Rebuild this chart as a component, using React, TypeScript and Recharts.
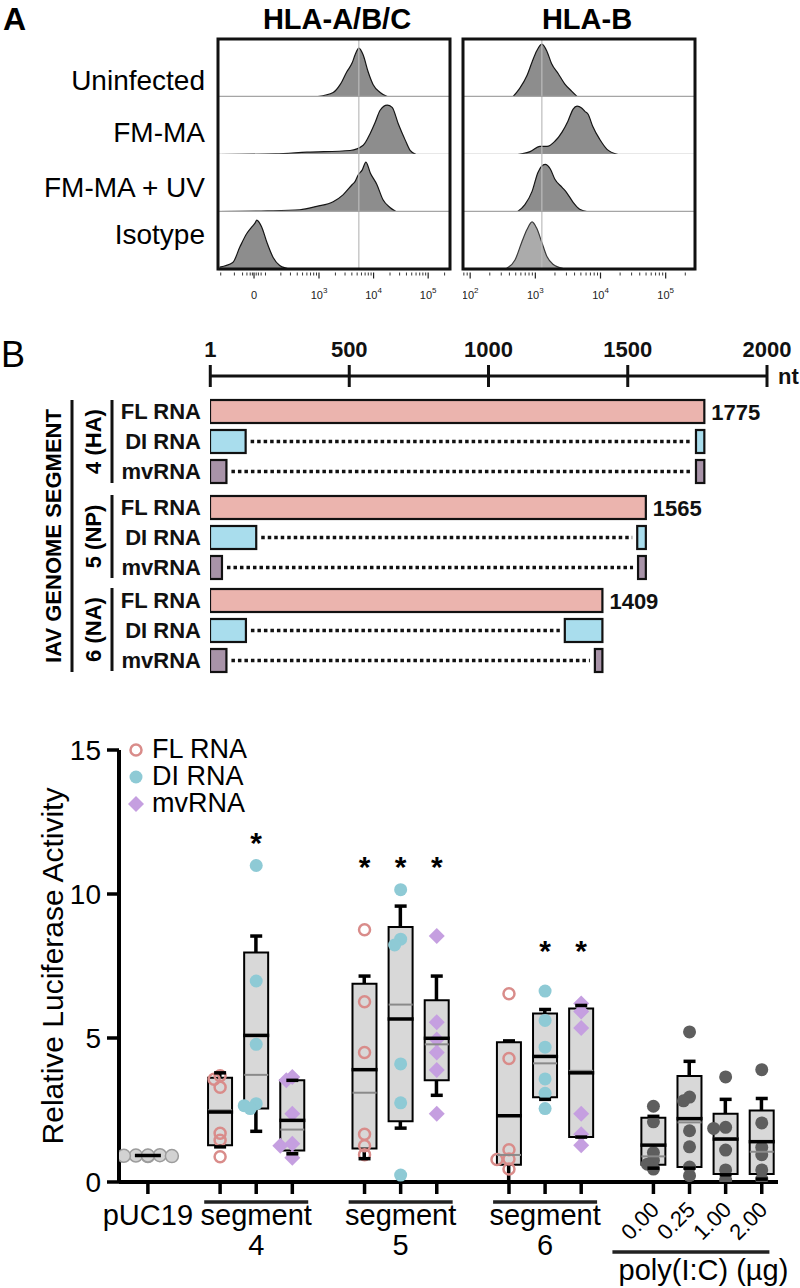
import React from 'react'
import {
  AreaChart,
  Area,
  ComposedChart,
  Bar,
  Scatter,
  Line,
  XAxis,
  YAxis,
  ReferenceLine,
  Legend,
} from 'recharts'

const FONT = '"Liberation Sans", Arial, Helvetica, sans-serif'
const INK = '#111'

// ---------- A: flow cytometry (x = log decade on the display axis, y = share of lane height)
const FLOW_SAMPLES = ['Uninfected', 'FM-MA', 'FM-MA + UV', 'Isotype']
const FLOW_STAINS = ['HLA-A/B/C', 'HLA-B']

const abcUninfected = [[2.98, 0], [3.26, 0.07], [3.39, 0.21], [3.51, 0.43], [3.61, 0.59], [3.66, 0.72], [3.73, 0.84], [3.81, 0.72], [3.9, 0.43], [3.99, 0.21], [4.12, 0.07], [4.25, 0]]
const abcFmMa = [[1.18, 0], [2.2, 0.01], [2.78, 0.04], [3.57, 0.07], [3.81, 0.16], [3.94, 0.37], [4.03, 0.56], [4.12, 0.77], [4.25, 0.86], [4.34, 0.82], [4.45, 0.54], [4.58, 0.25], [4.67, 0.07], [4.78, 0]]
const abcFmMaUv = [[1.18, 0], [2.05, 0.01], [2.65, 0.03], [2.96, 0.09], [3.26, 0.17], [3.44, 0.29], [3.61, 0.47], [3.66, 0.52], [3.72, 0.64], [3.79, 0.72], [3.86, 0.86], [3.94, 0.67], [4.06, 0.47], [4.17, 0.21], [4.3, 0.07], [4.41, 0]]
const abcIsotype = [[1.18, 0.04], [1.42, 0.12], [1.55, 0.39], [1.68, 0.63], [1.77, 0.74], [1.83, 0.81], [1.86, 0.86], [1.95, 0.74], [2.05, 0.46], [2.16, 0.21], [2.28, 0.07], [2.41, 0.02], [2.5, 0]]

const hlaBUninfected = [[2.66, 0], [2.76, 0.14], [2.87, 0.36], [2.95, 0.6], [3.02, 0.79], [3.1, 0.91], [3.18, 0.78], [3.25, 0.57], [3.35, 0.4], [3.45, 0.22], [3.56, 0.09], [3.64, 0]]
const hlaBFmMa = [[2.73, 0], [2.92, 0.05], [3.07, 0.14], [3.18, 0.14], [3.3, 0.23], [3.41, 0.39], [3.5, 0.58], [3.58, 0.79], [3.64, 0.84], [3.71, 0.81], [3.76, 0.75], [3.81, 0.7], [3.88, 0.49], [3.99, 0.26], [4.1, 0.09], [4.27, 0]]
const hlaBFmMaUv = [[2.73, 0], [2.84, 0.12], [2.95, 0.35], [3.04, 0.68], [3.15, 0.82], [3.23, 0.74], [3.3, 0.56], [3.41, 0.42], [3.48, 0.33], [3.58, 0.16], [3.68, 0.04], [3.79, 0]]
const hlaBIsotype = [[2.56, 0.02], [2.69, 0.17], [2.79, 0.47], [2.87, 0.69], [2.95, 0.83], [3.02, 0.72], [3.1, 0.47], [3.18, 0.22], [3.27, 0.09], [3.42, 0.02]]

const abcTicks = [1.81, 3, 4, 5]
const abcTickText = ['0', '10^3', '10^4', '10^5']
const abcNearZero = [1.2, 1.45, 1.6, 1.68, 1.74, 1.78, 1.85, 1.89, 1.94, 2.02]
const hlaBTicks = [2, 3, 4, 5]
const hlaBTickText = ['10^2', '10^3', '10^4', '10^5']

function logMinors(lo: number, hi: number) {
  const out: number[] = []
  for (let d = Math.floor(lo); d <= Math.ceil(hi); d++) {
    for (let k = 2; k <= 9; k++) {
      const v = d + Math.log10(k)
      if (v > lo && v < hi) out.push(v)
    }
  }
  return out
}

const FLOW_PANELS = [
  {
    left: 218, domain: [1.15, 5.4], marker: 3.73,
    lanes: [abcUninfected, abcFmMa, abcFmMaUv, abcIsotype],
    ticks: abcTicks, text: abcTickText,
    minor: [...abcNearZero, ...logMinors(2, 5.4)],
  },
  {
    left: 463, domain: [1.89, 5.45], marker: 3.1,
    lanes: [hlaBUninfected, hlaBFmMa, hlaBFmMaUv, hlaBIsotype],
    ticks: hlaBTicks, text: hlaBTickText,
    minor: logMinors(1.89, 5.45),
  },
]
const FLOW_TOP = 39
const LANE_H = 57.5

function FlowTick({ x, y, payload, panel }: any) {
  const p = FLOW_PANELS[panel]
  const i = p.ticks.indexOf(payload.value)
  if (i < 0) {
    return <line x1={x} x2={x} y1={y + 3} y2={y + 6} stroke="#333" strokeWidth={1} />
  }
  const [base, exp] = p.text[i].split('^')
  return (
    <g>
      <line x1={x} x2={x} y1={y + 3} y2={y + 9} stroke="#222" strokeWidth={1.2} />
      <text x={x} y={y + 29} textAnchor="middle" fontSize={11} fill="#222">
        {base}
        {exp && <tspan dy={-6} fontSize={8}>{exp}</tspan>}
      </text>
    </g>
  )
}

function FlowLane({ panel, lane }: { panel: number; lane: number }) {
  const p = FLOW_PANELS[panel]
  const last = lane === 3
  const light = panel === 1 && lane === 3
  const data = p.lanes[lane].map(([x, y]) => ({ x, y }))
  return (
    <div style={{ position: 'absolute', left: p.left, top: FLOW_TOP + lane * LANE_H }}>
      <AreaChart width={232} height={last ? LANE_H + 40 : LANE_H} data={data} margin={{ top: 0, right: 0, bottom: 0, left: 0 }}>
        <XAxis
          type="number"
          dataKey="x"
          domain={p.domain}
          allowDataOverflow
          hide={!last}
          height={40}
          ticks={[...p.ticks, ...p.minor]}
          interval={0}
          tickSize={0}
          tickMargin={0}
          axisLine={false}
          tick={(t: any) => <FlowTick {...t} panel={panel} />}
        />
        <YAxis type="number" domain={[0, 1]} hide allowDataOverflow />
        <Area
          type="monotone"
          dataKey="y"
          stroke={light ? '#3a3a3a' : '#151515'}
          strokeWidth={1.2}
          fill={light ? '#ababab' : '#8d8d8d'}
          fillOpacity={1}
          isAnimationActive={false}
        />
        <ReferenceLine x={p.marker} stroke="#bcbcbc" strokeWidth={1.2} />
        <ReferenceLine y={0} stroke="#a5a5a5" strokeWidth={1.5} />
      </AreaChart>
    </div>
  )
}

// ---------- B: genome segments (nt)
const SEGMENT_LABELS = ['4 (HA)', '5 (NP)', '6 (NA)']
const SEGMENT_LENGTHS = [1775, 1565, 1409]
const RNA_LABELS = ['FL RNA', 'DI RNA', 'mvRNA']
const DI_RETAINED = [[128, 1745], [166, 1534], [129, 1274]]
const MV_RETAINED = [[59, 1745], [43, 1537], [59, 1382]]
const RULER_TICKS = [1, 500, 1000, 1500, 2000]
const RNA_FILLS = ['#ebb4ae', '#a9dded', '#a893a8']
const SEGMENT_TOPS = [396, 492, 585]

function segmentRows(g: number) {
  const len = SEGMENT_LENGTHS[g]
  const kept = [null, DI_RETAINED[g], MV_RETAINED[g]]
  return RNA_LABELS.map((name, kind) => {
    const k = kept[kind]
    return k
      ? { name, kind, head: k[0], gap: k[1] - k[0], tail: len - k[1], total: null }
      : { name, kind, head: len, gap: 0, tail: 0, total: len }
  })
}

function Piece(p: any) {
  if (!(p.width > 0)) return <g />
  const total = p.payload?.total
  return (
    <g>
      <rect x={p.x} y={p.y} width={p.width} height={p.height} fill={RNA_FILLS[p.payload.kind]} stroke={INK} strokeWidth={2.2} />
      {p.showTotal && total != null && (
        <text x={p.x + p.width + 7} y={p.y + p.height / 2 + 8} fontSize={22} fontWeight="bold" fill={INK}>
          {total}
        </text>
      )}
    </g>
  )
}

function Gap(p: any) {
  if (!(p.width > 12)) return <g />
  const cy = p.y + p.height / 2
  return <line x1={p.x + 5} x2={p.x + p.width - 5} y1={cy} y2={cy} stroke={INK} strokeWidth={3.5} strokeDasharray="3.5 3" />
}

function SegmentChart({ g }: { g: number }) {
  return (
    <div style={{ position: 'absolute', left: 0, top: SEGMENT_TOPS[g] }}>
      <ComposedChart layout="vertical" width={800} height={90} data={segmentRows(g)} margin={{ top: 0, right: 33, bottom: 0, left: 0 }}>
        <XAxis type="number" domain={[0, 2000]} hide allowDataOverflow />
        <YAxis
          type="category"
          dataKey="name"
          width={210}
          interval={0}
          tickSize={0}
          tickMargin={9}
          axisLine={false}
          tickLine={false}
          tick={{ fontSize: 22, fontWeight: 'bold', fill: INK }}
        />
        <Bar dataKey="head" stackId="s" barSize={23} isAnimationActive={false} shape={(p: any) => <Piece {...p} showTotal />} />
        <Bar dataKey="gap" stackId="s" barSize={23} isAnimationActive={false} shape={(p: any) => <Gap {...p} />} />
        <Bar dataKey="tail" stackId="s" barSize={23} isAnimationActive={false} shape={(p: any) => <Piece {...p} />} />
      </ComposedChart>
    </div>
  )
}

function RulerTick({ x, y, payload }: any) {
  const last = payload.value === RULER_TICKS[RULER_TICKS.length - 1]
  return (
    <g>
      <line x1={x} x2={x} y1={y - 11} y2={y + 11} stroke={INK} strokeWidth={3} />
      <text x={x} y={y - 19} textAnchor="middle" fontSize={22} fontWeight="bold" fill={INK}>
        {payload.value}
      </text>
      {last && (
        <text x={x + 11} y={y + 8} fontSize={22} fontWeight="bold" fill={INK}>
          nt
        </text>
      )}
    </g>
  )
}

function RulerChart() {
  return (
    <div style={{ position: 'absolute', left: 0, top: 336 }}>
      <ComposedChart width={800} height={60} data={RULER_TICKS.map((nt) => ({ nt }))} margin={{ top: 0, right: 33, bottom: 0, left: 210 }}>
        <XAxis
          type="number"
          dataKey="nt"
          domain={[0, 2000]}
          ticks={RULER_TICKS}
          interval={0}
          height={20}
          tickSize={0}
          tickMargin={0}
          allowDataOverflow
          axisLine={{ stroke: INK, strokeWidth: 3 }}
          tick={(t: any) => <RulerTick {...t} />}
        />
        <YAxis hide domain={[0, 1]} />
        <Line dataKey={() => 0} stroke="none" dot={false} isAnimationActive={false} />
      </ComposedChart>
    </div>
  )
}

// ---------- C: luciferase reporter
const SEGMENT_NUMBERS = ['4', '5', '6']
const POLY_DOSES = ['0.00', '0.25', '1.00', '2.00']

const pUC19Points = [0.9, 0.92, 0.93, 0.91, 0.9, 0.92]
const flRnaPoints = [
  [3.69, 3.57, 3.29, 1.69, 1.45, 0.88],
  [8.76, 6.26, 4.5, 1.66, 1.26, 0.95],
  [6.54, 4.29, 1.12, 0.8, 0.78, 0.45],
]
const diRnaPoints = [
  [10.99, 6.98, 4.78, 2.72, 2.65, 2.55],
  [10.15, 8.43, 8.23, 4.1, 2.75, 0.24],
  [6.63, 5.61, 4.68, 3.58, 3.08, 2.55],
]
const mvRnaPoints = [
  [3.65, 3.53, 2.37, 1.33, 1.26, 0.84],
  [8.54, 5.55, 4.95, 4.5, 3.89, 2.37],
  [6.2, 5.92, 5.35, 2.37, 1.66, 1.28],
]
const polyICPoints = [
  [2.63, 2.09, 1.02, 0.75, 0.62, 0.45],
  [5.21, 2.95, 2.82, 1.78, 1.22, 0.52, 0.22],
  [3.65, 1.9, 1.86, 1.11, 0.42, 0.07],
  [3.9, 2.05, 1.2, 0.95, 0.42, 0.1],
]

// order: pUC19 | seg4 FL DI mv | seg5 FL DI mv | seg6 FL DI mv | poly(I:C) 0.00 0.25 1.00 2.00
const boxLow = [0.89, 1.28, 2.55, 1.09, 1.16, 2.11, 3.53, 0.6, 2.94, 1.56, 0.6, 0.52, 0.28, 0.28]
const boxHigh = [0.94, 3.62, 7.97, 3.53, 6.88, 8.85, 6.31, 4.85, 5.85, 6.02, 2.23, 3.68, 2.37, 2.48]
const means = [0.92, 2.43, 5.09, 2.14, 3.9, 5.66, 4.99, 2.3, 4.36, 3.79, 1.28, 2.2, 1.49, 1.4]
const medians = [0.92, 2.49, 3.72, 1.82, 3.1, 6.16, 4.78, 0.94, 4.12, 3.86, 0.89, 2.07, 1.52, 1.05]
const errLow = [0.92, 1.22, 1.76, 0.98, 0.81, 1.87, 3.01, 0, 2.87, 1.56, 0.48, 0.48, 0.25, 0.1]
const errHigh = [0.92, 3.79, 8.54, 3.53, 7.15, 9.58, 7.15, 4.9, 5.99, 6.13, 2.28, 4.19, 2.87, 2.9]
const starLevel = [null, null, 11.95, null, 11.1, 11.1, 11.1, null, 8.19, 8.19, null, null, null, null]

type Kind = 'puc' | 'fl' | 'di' | 'mv' | 'poly'
type Cond = { kind: Kind; slot: number; member: number; group: number; points: number[] }

const conditions: Cond[] = (() => {
  const out: Cond[] = [{ kind: 'puc', slot: 0, member: 0, group: 0, points: pUC19Points }]
  let slot = 2
  const kinds: Kind[] = ['fl', 'di', 'mv']
  const sets = [flRnaPoints, diRnaPoints, mvRnaPoints]
  SEGMENT_NUMBERS.forEach((_, g) => {
    kinds.forEach((kind, r) => out.push({ kind, slot: slot++, member: r, group: g, points: sets[r][g] }))
    slot++
  })
  POLY_DOSES.forEach((_, d) => out.push({ kind: 'poly', slot: slot++, member: d, group: 0, points: polyICPoints[d] }))
  return out
})()
const SLOTS = conditions.map((c) => c.slot)
const X_DOMAIN = [-0.8, 17.45]

// rough beeswarm, px per unit of each axis for overlap checks
const PX_PER_UNIT = 28.8
const PX_PER_SLOT = 36.1
function swarm(values: number[], slot: number) {
  const placed: { x: number; y: number }[] = []
  return values.map((v) => {
    const py = v * PX_PER_UNIT
    let off = 0
    for (let k = 0; k < 11; k++) {
      const cand = k === 0 ? 0 : (k % 2 ? -1 : 1) * Math.ceil(k / 2) * 6
      if (placed.every((p) => Math.hypot(p.x - cand, p.y - py) >= 6.5)) {
        off = cand
        break
      }
    }
    placed.push({ x: off, y: py })
    return { x: slot + off / PX_PER_SLOT, y: v }
  })
}

const boxRows = conditions.map((c, i) => ({ x: c.slot, box: [boxLow[i], boxHigh[i]], whisker: [errLow[i], errHigh[i]] }))
const meanPts = conditions.map((c, i) => ({ x: c.slot, y: means[i] }))
const medianPts = conditions.map((c, i) => ({ x: c.slot, y: medians[i] }))
const capPts = conditions.flatMap((c, i) => (c.kind === 'puc' ? [] : [{ x: c.slot, y: errLow[i] }, { x: c.slot, y: errHigh[i] }]))
const starPts = conditions.flatMap((c, i) => (starLevel[i] == null ? [] : [{ x: c.slot, y: starLevel[i] as number }]))
const pointsOf = (kind: Kind) => conditions.filter((c) => c.kind === kind).flatMap((c) => swarm(c.points, c.slot))

const LEGEND_KINDS: Kind[] = ['fl', 'di', 'mv']

function Marker({ kind, cx, cy }: { kind: Kind; cx: number; cy: number }) {
  if (kind === 'fl') return <circle cx={cx} cy={cy} r={5.5} fill="none" stroke="#d98c8a" strokeWidth={2.5} />
  if (kind === 'di') return <circle cx={cx} cy={cy} r={6.5} fill="#8ecad5" />
  if (kind === 'mv') return <polygon points={`${cx},${cy - 8} ${cx + 8},${cy} ${cx},${cy + 8} ${cx - 8},${cy}`} fill="#c59fe0" />
  if (kind === 'poly') return <circle cx={cx} cy={cy} r={6.5} fill="#5e5e5e" />
  return <circle cx={cx} cy={cy} r={6.5} fill="#d2d2d2" stroke="#9c9c9c" strokeWidth={1.5} />
}

function ConditionTick({ x, y, payload }: any) {
  const c = conditions.find((d) => d.slot === payload.value)
  if (!c) return null
  return (
    <g>
      <line x1={x} x2={x} y1={y} y2={y + 12} stroke="#000" strokeWidth={3.5} />
      {c.kind === 'puc' && (
        <text x={x} y={y + 43} textAnchor="middle" fontSize={29} fill="#000">pUC19</text>
      )}
      {c.kind !== 'puc' && c.kind !== 'poly' && c.member === 1 && (
        <g>
          <line x1={x - 52} x2={x + 52} y1={y + 20} y2={y + 20} stroke="#222" strokeWidth={3.5} />
          <text x={x} y={y + 43} textAnchor="middle" fontSize={29} fill="#000">segment</text>
          <text x={x} y={y + 73} textAnchor="middle" fontSize={29} fill="#000">{SEGMENT_NUMBERS[c.group]}</text>
        </g>
      )}
      {c.kind === 'poly' && (
        <text x={x + 7} y={y + 29} textAnchor="end" fontSize={22} fill="#000" transform={`rotate(-45 ${x + 7} ${y + 29})`}>
          {POLY_DOSES[c.member]}
        </text>
      )}
      {c.kind === 'poly' && c.member === 0 && (
        <g>
          <line x1={x - 41} x2={x + 116} y1={y + 70} y2={y + 70} stroke="#222" strokeWidth={3.5} />
          <text x={x + 50} y={y + 98} textAnchor="middle" fontSize={29} fill="#000">poly(I:C) (µg)</text>
        </g>
      )}
    </g>
  )
}

function YTitle() {
  return (
    <text x={52} y={266} textAnchor="middle" dominantBaseline="central" fontSize={30} fill="#000" transform="rotate(-90 52 266)">
      Relative Luciferase Activity
    </text>
  )
}

function LegendBox() {
  return (
    <div style={{ fontFamily: FONT }}>
      {LEGEND_KINDS.map((kind, i) => (
        <div key={kind} style={{ display: 'flex', alignItems: 'center', height: 27 }}>
          <svg width={16} height={18}>
            <Marker kind={kind} cx={8} cy={9} />
          </svg>
          <span style={{ fontSize: 27, marginLeft: 8, lineHeight: '27px', color: '#000' }}>{RNA_LABELS[i]}</span>
        </div>
      ))}
    </div>
  )
}

const hLine = (half: number, color: string, w: number) => (p: any) => (
  <line x1={p.cx - half} x2={p.cx + half} y1={p.cy} y2={p.cy} stroke={color} strokeWidth={w} />
)

function LuciferaseChart() {
  return (
    <div style={{ position: 'absolute', left: 0, top: 700 }}>
      <ComposedChart width={800} height={588} data={boxRows} margin={{ top: 50, right: 22, bottom: 0, left: 0 }}>
        <XAxis
          type="number"
          dataKey="x"
          domain={X_DOMAIN}
          ticks={SLOTS}
          interval={0}
          height={106}
          tickSize={0}
          tickMargin={0}
          allowDataOverflow
          axisLine={{ stroke: '#000', strokeWidth: 4 }}
          tick={(t: any) => <ConditionTick {...t} />}
        />
        <XAxis xAxisId="w" type="number" dataKey="x" domain={X_DOMAIN} ticks={SLOTS} hide allowDataOverflow />
        <XAxis xAxisId="b" type="number" dataKey="x" domain={X_DOMAIN} ticks={SLOTS} hide allowDataOverflow />
        <YAxis
          type="number"
          dataKey="y"
          domain={[0, 15]}
          ticks={[0, 5, 10, 15]}
          interval={0}
          width={119}
          tickSize={12}
          tickMargin={6}
          allowDataOverflow
          axisLine={{ stroke: '#000', strokeWidth: 4 }}
          tickLine={{ stroke: '#000', strokeWidth: 3.5 }}
          tick={{ fontSize: 28, fill: '#000' }}
          label={{ content: () => <YTitle /> }}
        />
        <Legend
          layout="vertical"
          align="center"
          verticalAlign="middle"
          content={() => <LegendBox />}
          wrapperStyle={{ left: 128, top: 36, width: 200 }}
        />
        <Bar xAxisId="w" dataKey="whisker" barSize={3.5} fill="#000" isAnimationActive={false} />
        <Bar xAxisId="b" dataKey="box" barSize={24} fill="#d8d8d8" stroke="#000" strokeWidth={2} isAnimationActive={false} />
        {(['puc', 'fl', 'di', 'mv', 'poly'] as Kind[]).map((kind) => (
          <Scatter
            key={kind}
            data={pointsOf(kind)}
            isAnimationActive={false}
            shape={(p: any) => <Marker kind={kind} cx={p.cx} cy={p.cy} />}
          />
        ))}
        <Scatter data={medianPts} isAnimationActive={false} shape={hLine(12, '#8a8a8a', 2)} />
        <Scatter data={meanPts} isAnimationActive={false} shape={hLine(13, '#000', 3.5)} />
        <Scatter data={capPts} isAnimationActive={false} shape={hLine(6, '#000', 3.5)} />
        <Scatter
          data={starPts}
          isAnimationActive={false}
          shape={(p: any) => (
            <text x={p.cx} y={p.cy + 15} textAnchor="middle" fontSize={30} fontWeight="bold" fill="#000">*</text>
          )}
        />
      </ComposedChart>
    </div>
  )
}

// ---------- static annotations
const FLOW_LABEL_BASELINES = [90, 142, 197, 244]
const FLOW_TITLE_X = [337, 587]
const SEGMENT_BRACKETS = [[400, 483], [495, 578], [588, 671]]

function Annotations() {
  return (
    <svg width={800} height={1288} style={{ position: 'absolute', left: 0, top: 0, pointerEvents: 'none' }}>
      <g fontFamily={FONT} fill="#000">
        <text x={3} y={30} fontSize={32} fontWeight="bold">A</text>
        {FLOW_STAINS.map((t, i) => (
          <text key={t} x={FLOW_TITLE_X[i]} y={29} textAnchor="middle" fontSize={29} fontWeight="bold">{t}</text>
        ))}
        {FLOW_SAMPLES.map((t, i) => (
          <text key={t} x={205} y={FLOW_LABEL_BASELINES[i]} textAnchor="end" fontSize={28}>{t}</text>
        ))}
        {FLOW_PANELS.map((p) => (
          <rect key={p.left} x={p.left} y={FLOW_TOP} width={232} height={LANE_H * 4} fill="none" stroke={INK} strokeWidth={3} />
        ))}
        <text x={1} y={367} fontSize={36}>B</text>
        <line x1={72} x2={72} y1={400} y2={672} stroke={INK} strokeWidth={3} />
        <text x={53} y={536} textAnchor="middle" dominantBaseline="central" fontSize={22} fontWeight="bold" transform="rotate(-90 53 536)">
          IAV GENOME SEGMENT
        </text>
        {SEGMENT_BRACKETS.map(([y1, y2], g) => (
          <g key={g}>
            <line x1={112} x2={112} y1={y1} y2={y2} stroke={INK} strokeWidth={3} />
            <text
              x={93}
              y={(y1 + y2) / 2}
              textAnchor="middle"
              dominantBaseline="central"
              fontSize={22}
              fontWeight="bold"
              transform={`rotate(-90 93 ${(y1 + y2) / 2})`}
            >
              {SEGMENT_LABELS[g]}
            </text>
          </g>
        ))}
      </g>
    </svg>
  )
}

export default function App() {
  return (
    <div style={{ position: 'absolute', left: 0, top: 0, width: 800, height: 1288, fontFamily: FONT, background: '#fff', overflow: 'hidden' }}>
      {FLOW_PANELS.map((_, panel) => [0, 1, 2, 3].map((lane) => <FlowLane key={`${panel}-${lane}`} panel={panel} lane={lane} />))}
      <RulerChart />
      {SEGMENT_LABELS.map((_, g) => <SegmentChart key={g} g={g} />)}
      <LuciferaseChart />
      <Annotations />
    </div>
  )
}
